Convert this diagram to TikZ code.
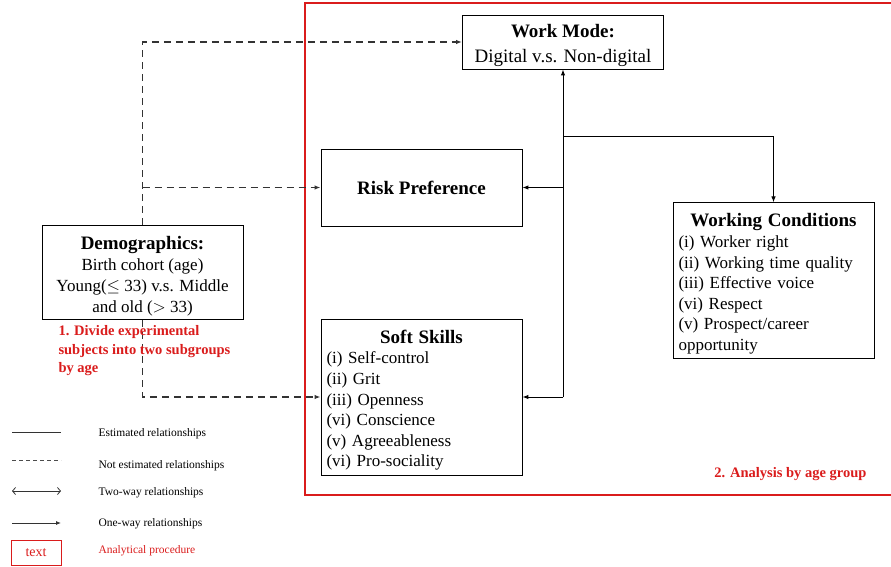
\documentclass[tikz,border=0pt]{standalone}
\usepackage{fontspec}
\setmainfont{Liberation Serif}
\usetikzlibrary{arrows.meta}
\definecolor{procred}{RGB}{218,28,28}
\newcommand\boxtitle[1]{{\fontsize{19}{22}\selectfont\bfseries #1}}
\newcommand\topstrut{\rule{0pt}{20pt}}

\begin{document}
\begin{tikzpicture}[x=1pt,y=-1pt,
    box/.style={draw,line width=0.9pt,inner sep=4pt,minimum width=201pt,
      font=\fontsize{17}{20.6}\selectfont},
    listbox/.style={box,text width=190pt,align=left},
    est/.style={line width=1pt,-{Latex[length=6pt,width=4.5pt]}},
    notest/.style={line width=1.2pt,black!80,dash pattern=on 7pt off 5pt,
      -{Latex[length=6pt,width=4.5pt]}},
    note/.style={text=procred,font=\bfseries\fontsize{14.5}{18.5}\selectfont},
    legtext/.style={anchor=west,font=\fontsize{11.5}{13}\selectfont}]
  \useasboundingbox (0,0) rectangle (891,567);

  % frame of the analysis by age group
  \coordinate (F1) at (891,3);
  \coordinate (F2) at (305,3);
  \coordinate (F3) at (305,495);
  \coordinate (F4) at (891,495);
  \draw[draw=procred,line width=1.1pt] (F1) -- (F2) -- (F3) -- (F4);

  % boxes
  \node[box,align=center,inner ysep=2pt,minimum height=54pt,font=\fontsize{19}{24.5}\selectfont] (wm) at (563,42)
    {\topstrut\boxtitle{Work Mode:}\\Digital v.s. Non-digital};
  \node[box,minimum height=77pt] (risk) at (421.5,187.5)
    {\boxtitle{Risk Preference}};
  \node[box,align=center,minimum height=93pt,font=\fontsize{17}{21}\selectfont] (demo) at (142.5,272.5)
    {\topstrut\boxtitle{Demographics:}\\Birth cohort (age)\\Young($\leq$ 33) v.s. Middle\\and old ($>$ 33)};
  \node[listbox,minimum height=156pt] (soft) at (421.5,397)
    {{\centering\topstrut\boxtitle{Soft Skills}\par}(i) Self-control\\(ii) Grit\\(iii) Openness\\
     (vi) Conscience\\(v) Agreeableness\\(vi) Pro-sociality};
  \node[listbox,minimum height=155pt] (wc) at (773.5,280.5)
    {{\centering\topstrut\boxtitle{Working Conditions}\par}(i) Worker right\\(ii) Working time quality\\
     (iii) Effective voice\\(vi) Respect\\(v) Prospect/career\\opportunity};

  % estimated relationships
  \coordinate (J1) at (563,137);
  \coordinate (J2) at (563,187.5);
  \coordinate (J3) at (563,397);
  \draw[est] (J3) -- (wm.south);
  \draw[est] (J1) -| (wc.north);
  \draw[est] (J2) -- (risk.east);
  \draw[est] (J3) -- (soft.east);

  % not estimated relationships
  \draw[notest] (demo.north) |- (wm.west);
  \draw[notest] (demo.north |- risk.west) -- (risk.west);
  \draw[notest] (demo.south) |- (soft.west);

  % notes
  \node[note,anchor=north west,align=left] (n1) at (55,322)
    {1. Divide experimental\\subjects into two subgroups\\by age};
  \node[note,anchor=east] (n2) at (870,474) {2. Analysis by age group};

  % legend
  \coordinate (La) at (12,432);  \coordinate (Lb) at (61,432);
  \coordinate (Ma) at (12,460);  \coordinate (Mb) at (61,460);
  \coordinate (Na) at (12,491);  \coordinate (Nb) at (61,491);
  \coordinate (Oa) at (12,523);  \coordinate (Ob) at (61,523);
  \draw[line width=0.8pt,black!80] (La) -- (Lb);
  \draw[line width=0.8pt,black!70,dash pattern=on 4pt off 3pt] (Ma) -- (Mb);
  \draw[line width=0.8pt,black!80,{Straight Barb[length=3pt,width=7pt]}-{Straight Barb[length=3pt,width=7pt]}] (Na) -- (Nb);
  \draw[line width=0.8pt,black!80,-{Latex[length=5pt,width=4pt]}] (Oa) -- (Ob);
  \node[draw=procred,text=procred,line width=0.8pt,minimum width=50pt,minimum height=25pt,
    font=\fontsize{14}{16}\selectfont] (lbox) at (36,552.5) {text};
  \node[legtext] (t1) at (95,434) {Estimated relationships};
  \node[legtext] (t2) at (95,466) {Not estimated relationships};
  \node[legtext] (t3) at (95,493) {Two-way relationships};
  \node[legtext] (t4) at (95,524) {One-way relationships};
  \node[legtext,text=procred] (t5) at (95,551) {Analytical procedure};
\end{tikzpicture}
\end{document}
